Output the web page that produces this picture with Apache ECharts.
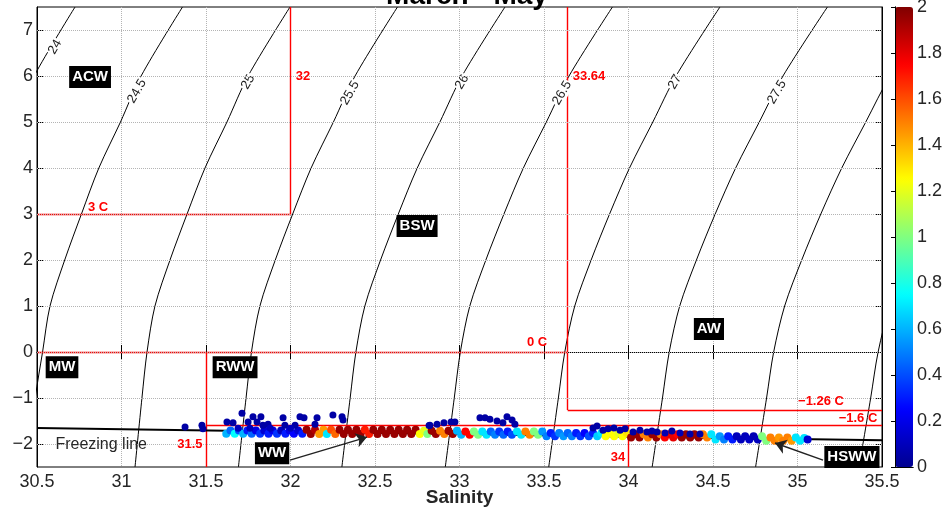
<!DOCTYPE html>
<html>
<head>
<meta charset="utf-8">
<script src="https://cdn.jsdelivr.net/npm/echarts@6.0.0/dist/echarts.min.js"></script>
<style>
  html, body { margin: 0; padding: 0; background: #fff; }
  #main { width: 947px; height: 509px; }
</style>
</head>
<body>
<div id="main"></div>
<script>
// ---- data ----
const tempTicks = [-2, -1, 0, 1, 2, 3, 4, 5, 6, 7];
const colorbarTicks = [0, 0.2, 0.4, 0.6, 0.8, 1, 1.2, 1.4, 1.6, 1.8, 2];

// sigma-t contours: salinity where each level crosses these temperatures
const densityLevels = ['24', '24.5', '25', '25.5', '26', '26.5', '27', '27.5', '28', '28.5'];
const contourTemps = [-2.5, -1, 0, 1, 2, 3, 4, 5, 6, 7.5];
const contourSalinity = [
  [29.856, 29.889, 29.915, 29.956, 30.041, 30.138, 30.238, 30.364, 30.483, 30.725],
  [30.45, 30.49, 30.533, 30.577, 30.664, 30.763, 30.866, 30.994, 31.116, 31.361],
  [31.080, 31.121, 31.151, 31.198, 31.287, 31.388, 31.494, 31.624, 31.749, 31.997],
  [31.692, 31.737, 31.769, 31.819, 31.910, 32.013, 32.122, 32.254, 32.382, 32.633],
  [32.304, 32.353, 32.387, 32.440, 32.533, 32.638, 32.750, 32.884, 33.015, 33.269],
  [32.916, 32.969, 33.005, 33.061, 33.156, 33.263, 33.378, 33.514, 33.648, 33.905],
  [33.528, 33.585, 33.623, 33.682, 33.779, 33.888, 34.006, 34.144, 34.281, 34.541],
  [34.140, 34.201, 34.241, 34.303, 34.402, 34.513, 34.634, 34.774, 34.914, 35.177],
  [34.752, 34.817, 34.859, 34.924, 35.025, 35.138, 35.262, 35.404, 35.547, 35.813],
  [35.364, 35.433, 35.477, 35.545, 35.648, 35.763, 35.890, 36.034, 36.180, 36.449]
];
// where the contour labels sit [S, T]
const contourLabelPos = [
  [30.607, 6.63], [31.092, 5.67], [31.749, 5.87], [32.352, 5.63],
  [33.015, 5.87], [33.607, 5.63], [34.275, 5.87], [34.879, 5.65]
];

const freezingLine = [[30.5, -1.65], [35.5, -1.92]];

// water mass boundaries, each [[S1, T1], [S2, T2]]
const massBoundaries = [
  [[30.5, 3], [32, 3]],
  [[32, 3], [32, 7.5]],
  [[30.5, 0], [33.64, 0]],
  [[33.64, 0], [33.64, 7.5]],
  [[33.64, 0], [33.64, -1.26]],
  [[33.64, -1.26], [35.5, -1.26]],
  [[31.5, -1.6], [35.5, -1.6]],
  [[31.5, 0], [31.5, -2.5]],
  [[34, -1.6], [34, -2.5]]
];
const boundaryLabels = [
  ['32', 32.074, 6.0], ['33.64', 33.766, 5.98], ['3 C', 30.861, 3.15],
  ['0 C', 33.459, 0.2], ['\u22121.26 C', 35.139, -1.065], ['\u22121.6 C', 35.358, -1.435],
  ['31.5', 31.405, -2.02], ['34', 33.938, -2.3]
];
const massLabels = [
  ['ACW', 30.814, 5.98], ['MW', 30.648, -0.33], ['RWW', 31.672, -0.33],
  ['BSW', 32.749, 2.74], ['AW', 34.476, 0.5], ['WW', 31.891, -2.2], ['HSWW', 35.322, -2.28]
];
const arrows = [
  [[31.997, -2.35], [32.453, -1.85]],
  [[35.151, -2.35], [34.867, -1.98]]
];

// observations [salinity, temperature, colour value]
const bandPoints = [
  [31.62,-1.775,0.6],[31.645,-1.705,0.45],[31.67,-1.775,0.75],[31.695,-1.705,0.4],[31.72,-1.775,0.6],
  [31.745,-1.705,0.3],[31.77,-1.775,0.45],[31.795,-1.705,0.2],[31.82,-1.775,0.35],[31.845,-1.705,0.15],
  [31.87,-1.775,0.3],[31.895,-1.705,0.2],[31.92,-1.775,0.35],[31.945,-1.705,0.1],[31.97,-1.775,0.3],
  [31.995,-1.705,0.2],[32.02,-1.775,0.25],[32.045,-1.705,0.15],[32.07,-1.775,0.3],
  [32.095,-1.69,1.95],[32.12,-1.78,1.95],[32.145,-1.69,1.9],[32.17,-1.78,1.45],[32.195,-1.69,1.45],
  [32.215,-1.78,0.7],[32.24,-1.69,1.6],[32.265,-1.78,1.55],[32.29,-1.69,1.95],[32.315,-1.78,1.95],
  [32.34,-1.69,1.95],[32.365,-1.78,1.95],[32.39,-1.69,1.95],[32.415,-1.78,1.95],[32.44,-1.69,1.7],
  [32.465,-1.78,1.7],[32.49,-1.69,1.95],[32.515,-1.78,1.95],[32.54,-1.69,1.95],[32.565,-1.78,1.95],
  [32.59,-1.69,1.95],[32.615,-1.78,1.95],[32.64,-1.69,1.95],[32.665,-1.78,1.95],[32.69,-1.69,1.95],
  [32.715,-1.78,1.95],[32.74,-1.69,1.95],
  [32.765,-1.78,1.25],[32.79,-1.71,1.2],[32.81,-1.78,1.0],[32.835,-1.71,1.95],[32.86,-1.78,1.95],
  [32.885,-1.71,1.5],[32.91,-1.78,1.5],[32.935,-1.71,1.95],[32.96,-1.78,1.95],[32.985,-1.71,0.6],
  [33.01,-1.80,0.6],[33.035,-1.73,1.75],[33.06,-1.80,1.75],[33.085,-1.73,1.0],[33.11,-1.80,1.0],
  [33.135,-1.73,0.7],[33.16,-1.80,0.7],[33.185,-1.73,0.45],[33.21,-1.80,0.5],[33.235,-1.73,0.35],
  [33.26,-1.80,0.45],[33.285,-1.73,0.3],[33.31,-1.80,0.4],[33.34,-1.73,0.7],[33.365,-1.80,0.7],
  [33.39,-1.73,1.5],[33.415,-1.80,1.5],[33.44,-1.73,1.0],[33.465,-1.80,1.0],[33.49,-1.73,0.55],
  [33.515,-1.83,0.5],[33.54,-1.76,0.3],[33.565,-1.83,0.35],[33.59,-1.76,0.5],[33.615,-1.83,0.55],
  [33.64,-1.76,0.45],[33.665,-1.83,0.5],[33.69,-1.76,0.3],[33.715,-1.83,0.35],[33.74,-1.76,0.25],
  [33.765,-1.83,0.4],[33.79,-1.76,0.3],[33.815,-1.83,0.65],[33.84,-1.76,0.7],[33.865,-1.83,1.25],
  [33.89,-1.76,1.25],[33.915,-1.83,1.25],[33.94,-1.76,1.2],[33.965,-1.83,1.25],[33.99,-1.76,1.3],
  [34.015,-1.86,1.95],[34.04,-1.79,1.95],[34.065,-1.86,1.95],[34.09,-1.79,1.5],[34.115,-1.86,1.5],
  [34.14,-1.79,1.95],[34.165,-1.86,1.95],[34.19,-1.79,1.5],[34.215,-1.86,1.75],[34.24,-1.79,1.8],
  [34.265,-1.86,1.8],[34.29,-1.79,1.75],[34.315,-1.86,1.95],[34.34,-1.79,1.95],[34.365,-1.86,1.95],
  [34.39,-1.79,1.95],[34.415,-1.86,1.95],[34.44,-1.79,1.5],[34.465,-1.86,1.5],[34.49,-1.79,0.7],
  [34.515,-1.90,0.7],[34.54,-1.83,0.55],[34.565,-1.90,0.5],[34.59,-1.83,0.3],[34.615,-1.90,0.3],
  [34.64,-1.83,0.1],[34.665,-1.90,0.1],[34.69,-1.83,0.1],[34.715,-1.90,0.12],[34.74,-1.83,0.08],
  [34.765,-1.90,0.1],[34.79,-1.83,1.0],
  [34.815,-1.93,1.0],[34.84,-1.86,1.5],[34.865,-1.93,1.5],[34.89,-1.86,1.45],[34.915,-1.93,1.5],
  [34.94,-1.86,1.5],[34.965,-1.93,1.45],[34.99,-1.86,0.7],[35.015,-1.93,0.7],[35.04,-1.87,0.7],
  [35.06,-1.90,0.15]
];
const upperPoints = [
  [31.376,-1.63,0.05],[31.476,-1.59,0.05],[31.482,-1.67,0.05],[31.624,-1.52,0.05],[31.66,-1.54,0.05],
  [31.713,-1.33,0.05],[31.749,-1.52,0.05],[31.778,-1.41,0.05],[31.802,-1.52,0.05],[31.825,-1.41,0.05],
  [31.837,-1.59,0.05],[31.867,-1.57,0.05],[31.956,-1.43,0.05],[31.967,-1.59,0.05],[32.027,-1.59,0.05],
  [32.056,-1.41,0.05],[32.08,-1.43,0.05],[32.145,-1.57,0.05],[32.157,-1.43,0.05],[32.251,-1.37,0.05],
  [32.305,-1.41,0.05],[32.311,-1.48,0.05],[31.69,-1.66,0.1],[31.76,-1.66,0.1],[31.88,-1.66,0.1],
  [32.0,-1.66,0.1],[32.82,-1.6,0.05],[32.825,-1.59,0.05],[32.867,-1.57,0.05],[32.908,-1.54,0.05],
  [32.95,-1.52,0.05],[32.973,-1.52,0.05],[33.121,-1.43,0.05],[33.151,-1.43,0.05],[33.18,-1.46,0.05],
  [33.222,-1.5,0.05],[33.257,-1.54,0.05],[33.281,-1.41,0.05],[33.311,-1.48,0.05],[33.328,-1.57,0.05],
  [33.79,-1.65,0.05],[33.814,-1.61,0.05],[33.849,-1.7,0.05],[33.879,-1.67,0.05],[33.914,-1.65,0.05],
  [33.95,-1.7,0.05],[33.98,-1.67,0.05],[34.027,-1.74,0.05],[34.068,-1.7,0.05],[34.109,-1.74,0.05],
  [34.139,-1.72,0.05],[34.169,-1.74,0.05],[34.216,-1.76,0.08],[34.257,-1.72,0.05],[34.305,-1.76,0.08],
  [34.364,-1.78,0.05],[34.423,-1.78,0.05]
];

const jet = ['#00008f', '#0000ff', '#0080ff', '#00ffff', '#80ff80', '#ffff00', '#ff8000', '#ff0000', '#800000'];
const FONT = 'Liberation Sans, Arial, Helvetica, sans-serif';
const TXT = '#262626';

function minusFmt (v) {
  return v < 0 ? '\u2212' + (-v) : String(v);
}

function labelSeries (items, label, z) {
  return {
    type: 'scatter',
    data: items.map(d => ({ name: d[0], value: [d[1], d[2]] })),
    symbolSize: 1,
    itemStyle: { color: 'transparent', opacity: 1 },
    label: Object.assign({ show: true, position: 'inside', formatter: '{b}', fontFamily: FONT }, label),
    silent: true,
    z: z
  };
}

const series = [];

// dotted temperature grid lines
series.push({
  type: 'line',
  data: [],
  silent: true,
  z: 1,
  markLine: {
    silent: true,
    symbol: ['none', 'none'],
    label: { show: false },
    lineStyle: { color: '#b4b4b4', type: 'dotted', width: 1 },
    data: tempTicks.map(t => ({ yAxis: t }))
  }
});

contourSalinity.forEach((row) => {
  series.push({
    type: 'line',
    data: row.map((s, j) => [s, contourTemps[j]]),
    smooth: 0.3,
    showSymbol: false,
    silent: true,
    lineStyle: { color: '#000', width: 1 },
    z: 2
  });
});

series.push(labelSeries(
  contourLabelPos.map((p, i) => [densityLevels[i], p[0], p[1]]),
  { rotate: 60, fontSize: 13, color: '#222', backgroundColor: '#fff', padding: [0, 1] }, 3));

series.push({
  type: 'line',
  data: freezingLine,
  showSymbol: false,
  silent: true,
  lineStyle: { color: '#000', width: 2 },
  z: 3
});

series.push({
  type: 'lines',
  coordinateSystem: 'cartesian2d',
  data: massBoundaries.map(c => ({ coords: c })),
  lineStyle: { color: '#ff0000', width: 1.4, opacity: 1 },
  silent: true,
  z: 3
});

const bandIdx = series.length;
series.push({
  type: 'scatter',
  data: bandPoints,
  symbolSize: 8,
  itemStyle: { opacity: 1 },
  silent: true,
  z: 5
});
series.push({
  type: 'scatter',
  data: upperPoints,
  symbolSize: 7,
  itemStyle: { opacity: 1 },
  silent: true,
  z: 5
});

series.push({
  type: 'lines',
  coordinateSystem: 'cartesian2d',
  data: arrows.map(c => ({ coords: c })),
  symbol: ['none', 'arrow'],
  symbolSize: 11,
  lineStyle: { color: '#222', width: 1.5, opacity: 1 },
  silent: true,
  z: 6
});

series.push(labelSeries(massLabels,
  { fontSize: 15, fontWeight: 'bold', color: '#fff', backgroundColor: '#000', padding: [3, 3, 2, 3], lineHeight: 17 }, 7));
series.push(labelSeries(boundaryLabels,
  { fontSize: 13, fontWeight: 'bold', color: '#ff0000' }, 7));
series.push(labelSeries([['Freezing line', 30.88, -2.02]],
  { fontSize: 16, color: TXT }, 7));

// empty series so the colorbar axes render
series.push({ type: 'scatter', xAxisIndex: 2, yAxisIndex: 2, data: [], silent: true });

const option = {
  animation: false,
  title: {
    text: 'March - May',
    left: 462,
    top: -23,
    textAlign: 'center',
    textStyle: { fontSize: 28, fontWeight: 'bold', color: '#000', fontFamily: FONT }
  },
  grid: [
    { left: 37, top: 7, width: 845, height: 460, outerBoundsMode: 'none', containLabel: false,
      show: true, borderColor: '#000', borderWidth: 1, backgroundColor: '#fff' },
    { left: 895, top: 7, width: 18, height: 460, outerBoundsMode: 'none', containLabel: false }
  ],
  xAxis: [
    {
      gridIndex: 0, type: 'value', min: 30.5, max: 35.5, interval: 0.5,
      name: 'Salinity', nameLocation: 'middle', nameGap: 21, nameMoveOverlap: false,
      nameTextStyle: { fontSize: 19, fontWeight: 'bold', color: TXT, fontFamily: FONT, verticalAlign: 'top' },
      axisLine: { lineStyle: { color: '#000' } },
      axisTick: { inside: true, length: 7, lineStyle: { color: '#000' } },
      axisLabel: { fontSize: 18, color: TXT, margin: 6, fontFamily: FONT },
      splitLine: { show: true, lineStyle: { color: '#b4b4b4', type: 'dotted' } }
    },
    {
      gridIndex: 0, type: 'value', position: 'top', min: 30.5, max: 35.5, interval: 0.5,
      axisLine: { lineStyle: { color: '#000' } },
      axisTick: { inside: true, length: 7, lineStyle: { color: '#000' } },
      axisLabel: { show: false }, splitLine: { show: false }
    },
    {
      gridIndex: 1, type: 'value', min: 0, max: 1, z: 10,
      axisLine: { lineStyle: { color: '#000' } },
      axisTick: { show: false }, axisLabel: { show: false }, splitLine: { show: false }
    },
    {
      gridIndex: 1, type: 'value', position: 'top', min: 0, max: 1, z: 10,
      axisLine: { lineStyle: { color: '#000' } },
      axisTick: { show: false }, axisLabel: { show: false }, splitLine: { show: false }
    }
  ],
  yAxis: [
    {
      gridIndex: 0, type: 'value', min: -2.5, max: 7.5,
      axisLine: { show: true, lineStyle: { color: '#000' } },
      axisTick: { show: true, inside: true, length: 7, customValues: tempTicks, lineStyle: { color: '#000' } },
      axisLabel: { fontSize: 18, color: TXT, margin: 4, fontFamily: FONT, customValues: tempTicks, formatter: minusFmt },
      splitLine: { show: false }
    },
    {
      gridIndex: 0, type: 'value', position: 'right', min: -2.5, max: 7.5,
      axisLine: { show: true, lineStyle: { color: '#000' } },
      axisTick: { show: true, inside: true, length: 7, customValues: tempTicks, lineStyle: { color: '#000' } },
      axisLabel: { show: false }, splitLine: { show: false }
    },
    {
      gridIndex: 1, type: 'value', position: 'right', min: 0, max: 2, interval: 0.2, z: 10,
      axisLine: { show: true, lineStyle: { color: '#000' } },
      axisTick: { show: true, inside: true, length: 4, lineStyle: { color: '#000' } },
      axisLabel: { fontSize: 18, color: TXT, margin: 4, fontFamily: FONT,
        customValues: colorbarTicks },
      splitLine: { show: false }
    },
    {
      gridIndex: 1, type: 'value', position: 'left', min: 0, max: 2, z: 10,
      axisLine: { show: true, lineStyle: { color: '#000' } },
      axisTick: { show: false }, axisLabel: { show: false }, splitLine: { show: false }
    }
  ],
  visualMap: {
    type: 'continuous',
    min: 0, max: 2,
    dimension: 2,
    seriesIndex: [bandIdx, bandIdx + 1],
    inRange: { color: jet },
    left: 895, top: 7,
    itemWidth: 18, itemHeight: 460,
    padding: 0,
    calculable: false,
    hoverLink: false,
    show: true
  },
  series: series
};

const chart = echarts.init(document.getElementById('main'));
chart.setOption(option);
window.addEventListener('resize', () => chart.resize());
</script>
</body>
</html>
